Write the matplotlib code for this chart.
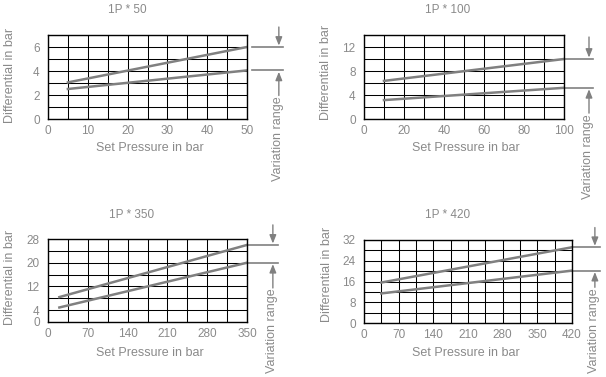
import matplotlib.pyplot as plt
from matplotlib.transforms import blended_transform_factory

plt.rcParams['font.family'] = ['Liberation Sans', 'DejaVu Sans']

GRAY = '#808080'
TXT = '#8a8a8a'

# chart data: (title, x ticks, y ticks, x grid step, y grid step, upper line, lower line)
titles = ['1P * 50', '1P * 100', '1P * 350', '1P * 420']
x_max = [50, 100, 350, 420]
y_max = [7, 14, 28, 32]
x_ticks = [[0, 10, 20, 30, 40, 50],
           [0, 20, 40, 60, 80, 100],
           [0, 70, 140, 210, 280, 350],
           [0, 70, 140, 210, 280, 350, 420]]
y_ticks = [[0, 2, 4, 6],
           [0, 4, 8, 12],
           [0, 4, 12, 20, 28],
           [0, 8, 16, 24, 32]]
x_grid = [5, 10, 35, 35]
y_grid = [1, 2, 4, 4]

upper_x = [[5, 50], [10, 100], [20, 350], [35, 420]]
upper_y = [[3.05, 6.0], [6.35, 10.0], [8.4, 26.0], [15.6, 29.2]]
lower_x = [[5, 50], [10, 100], [20, 350], [35, 420]]
lower_y = [[2.5, 4.05], [3.15, 5.2], [4.9, 20.0], [11.4, 20.2]]

# layout (pixels in a 606x377 picture): left, top, width, height of the box
boxes = [(48, 35, 199, 84), (364, 35, 200, 84), (48, 239, 199, 83), (364, 240, 208, 83)]
title_pos = [(0.40, 1.30), (0.42, 1.30), (0.42, 1.29), (0.40, 1.30)]
ylab_pos = [(-0.19, 0.52), (-0.19, 0.56), (-0.19, 0.54), (-0.18, 0.58)]
xlab_pos = [(0.51, -0.35), (0.51, -0.35), (0.51, -0.37), (0.49, -0.36)]
# variation-range marker: hline start/end, arrow x, upper arrow top, text top (axes fractions)
var_pos = [(1.025, 1.18, 1.16, 1.095, 0.28),
           (1.0, 1.145, 1.125, 0.976, 0.07),
           (1.0, 1.155, 1.13, 1.17, 0.41),
           (1.0, 1.135, 1.11, 1.15, 0.43)]

W, H = 606, 377
fig = plt.figure(figsize=(W / 100, H / 100), dpi=100)

for i in range(4):
    l, t, w, h = boxes[i]
    ax = fig.add_axes([l / W, 1 - (t + h) / H, w / W, h / H])
    ax.set_xlim(0, x_max[i])
    ax.set_ylim(0, y_max[i])
    ax.set_xticks(x_ticks[i])
    ax.set_yticks(y_ticks[i])
    ax.set_xticks(range(0, x_max[i] + 1, x_grid[i]), minor=True)
    ax.set_yticks(range(0, y_max[i] + 1, y_grid[i]), minor=True)
    ax.grid(which='both', color='black', linewidth=0.75)
    ax.tick_params(which='both', length=0, labelsize=8.5, labelcolor=TXT)
    ax.tick_params(axis='x', pad=4)
    ax.tick_params(axis='y', pad=6)
    for s in ax.spines.values():
        s.set_linewidth(1.0)
    ax.set_axisbelow(True)

    ax.plot(upper_x[i], upper_y[i], color=GRAY, linewidth=1.8)
    ax.plot(lower_x[i], lower_y[i], color=GRAY, linewidth=1.8)

    ax.text(*title_pos[i], titles[i], transform=ax.transAxes, ha='center', va='center',
            fontsize=8.5, color=TXT)
    ax.set_xlabel('Set Pressure in bar', fontsize=9, color=TXT)
    ax.set_ylabel('Differential in bar', fontsize=9, color=TXT)
    ax.xaxis.set_label_coords(*xlab_pos[i])
    ax.yaxis.set_label_coords(*ylab_pos[i])
    ax.xaxis.label.set_va('center')
    ax.yaxis.label.set_va('center')

    # variation range marker
    x0, x1, xa, ytop, ytxt = var_pos[i]
    tr = blended_transform_factory(ax.transAxes, ax.transData)
    y_hi = upper_y[i][-1]
    y_lo = lower_y[i][-1]
    ax.plot([x0, x1], [y_hi, y_hi], transform=tr, color=GRAY, linewidth=1.2, clip_on=False)
    ax.plot([x0, x1], [y_lo, y_lo], transform=tr, color=GRAY, linewidth=1.2, clip_on=False)
    arrow = dict(arrowstyle='-|>,head_length=0.5,head_width=0.2', color=GRAY,
                 linewidth=1.0, shrinkA=0, shrinkB=1)
    ax.annotate('', xy=(xa, y_hi), xycoords=tr, xytext=(xa, ytop),
                textcoords='axes fraction', arrowprops=arrow, annotation_clip=False)
    ax.annotate('', xy=(xa, y_lo), xycoords=tr, xytext=(xa, ytxt),
                textcoords='axes fraction', arrowprops=arrow, annotation_clip=False)
    ax.text(xa - 0.005, ytxt - 0.01, 'Variation range', transform=ax.transAxes,
            rotation=90, ha='center', va='top', fontsize=9, color=TXT, clip_on=False)

fig.savefig('out.png', dpi=100)
